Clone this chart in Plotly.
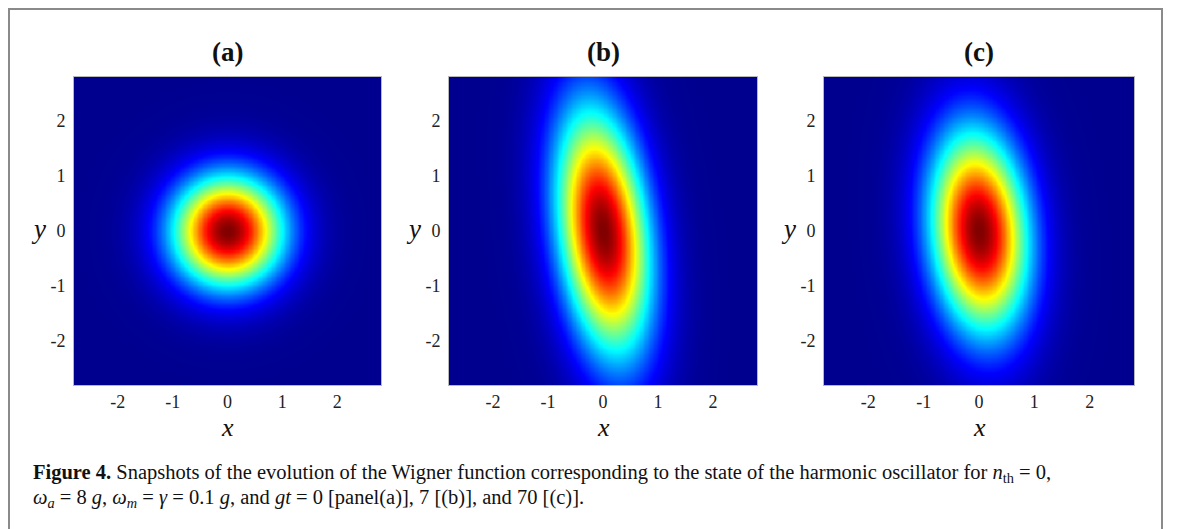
import numpy as np
import plotly.graph_objects as go

# ---- data ----
panel_titles = ["(a)", "(b)", "(c)"]
# Gaussian Wigner function parameters per panel: width along minor axis, major axis, tilt (deg)
minor_width = [1.0, 0.80, 0.86]
major_width = [1.0, 2.20, 1.80]
tilt_deg = [0.0, 7.0, 5.0]
tick_vals = [-2, -1, 0, 1, 2]
tick_text = ["-2", "-1", "0", "1", "2"]
axis_range = [-2.8, 2.8]

OFF = 8  # page body margin in the browser
W, H = 1179 - OFF, 529 - OFF


def px(x):
    return (x - OFF) / W


def py(y):
    return 1 - (y - OFF) / H


# plot area pixel boxes in reference coordinates (left, right, top, bottom)
boxes = [(74, 381, 77, 385), (449, 757, 77, 385), (824, 1134, 77, 385)]

jet = [
    [0.0, "rgb(0,0,143)"], [0.125, "rgb(0,0,255)"], [0.375, "rgb(0,255,255)"],
    [0.625, "rgb(255,255,0)"], [0.875, "rgb(255,0,0)"], [1.0, "rgb(128,0,0)"],
]

grid = np.linspace(axis_range[0], axis_range[1], 241)
X, Y = np.meshgrid(grid, grid)

fig = go.Figure()
annotations = []
serif = "Liberation Serif, Times New Roman, serif"

for i in range(3):
    th = np.deg2rad(tilt_deg[i])
    u = X * np.cos(th) + Y * np.sin(th)
    v = -X * np.sin(th) + Y * np.cos(th)
    Z = np.exp(-(u / minor_width[i]) ** 2 - (v / major_width[i]) ** 2)
    xa = "x" if i == 0 else f"x{i+1}"
    ya = "y" if i == 0 else f"y{i+1}"
    fig.add_trace(go.Heatmap(x=grid, y=grid, z=Z, colorscale=jet, zmin=0, zmax=1,
                             zsmooth="best", showscale=False, xaxis=xa, yaxis=ya,
                             hoverinfo="skip"))
    l, r, t, b = boxes[i]
    xd = [px(l), px(r)]
    yd = [py(b), py(t)]
    common = dict(range=axis_range, tickvals=tick_vals, ticktext=tick_text,
                  showgrid=False, zeroline=False, ticks="", showline=True, mirror=True,
                  linecolor="#b8b8b8", linewidth=1,
                  tickfont=dict(family=serif, size=18, color="#222"))
    xkey = "xaxis" if i == 0 else f"xaxis{i+1}"
    ykey = "yaxis" if i == 0 else f"yaxis{i+1}"
    fig.update_layout(**{
        xkey: dict(domain=xd, anchor=ya, ticklabelstandoff=0, **common),
        ykey: dict(domain=yd, anchor=xa, ticklabelstandoff=4, **common),
    })
    cx = (l + r) / 2
    annotations.append(dict(text=f"<b>{panel_titles[i]}</b>", x=px(cx), y=py(52),
                            xref="paper", yref="paper", showarrow=False,
                            font=dict(family=serif, size=27, color="#111"),
                            xanchor="center", yanchor="middle"))
    annotations.append(dict(text="<i>x</i>", x=px(cx), y=py(427),
                            xref="paper", yref="paper", showarrow=False,
                            font=dict(family=serif, size=26, color="#111"),
                            xanchor="center", yanchor="middle"))
    annotations.append(dict(text="<i>y</i>", x=px(l - 36), y=py(229),
                            xref="paper", yref="paper", showarrow=False,
                            font=dict(family=serif, size=27, color="#111"),
                            xanchor="center", yanchor="middle"))

caption1 = ("<b>Figure 4.</b> Snapshots of the evolution of the Wigner function corresponding "
            "to the state of the harmonic oscillator for <i>n</i><sub>th</sub> = 0,")
caption2 = ("<i>ω<sub>a</sub></i> = 8 <i>g</i>, <i>ω<sub>m</sub></i> = <i>γ</i> = 0.1 <i>g</i>, "
            "and <i>gt</i> = 0 [panel(a)], 7 [(b)], and 70 [(c)].")
for txt, yy in [(caption1, 473), (caption2, 498)]:
    annotations.append(dict(text=txt, x=px(31), y=py(yy), xref="paper", yref="paper",
                            showarrow=False, xanchor="left", yanchor="middle",
                            font=dict(family=serif, size=20.5, color="#111")))

shapes = [dict(type="path", xref="paper", yref="paper",
               path=f"M {1/W} -0.05 L {1/W} {1-1/H} L {px(1162)} {1-1/H} L {px(1162)} -0.05",
               line=dict(color="#8a8a8a", width=2))]

fig.update_layout(width=W, height=H, margin=dict(l=0, r=0, t=0, b=0),
                  paper_bgcolor="white", plot_bgcolor="white",
                  annotations=annotations, shapes=shapes, showlegend=False)
fig.write_html("out.html")
